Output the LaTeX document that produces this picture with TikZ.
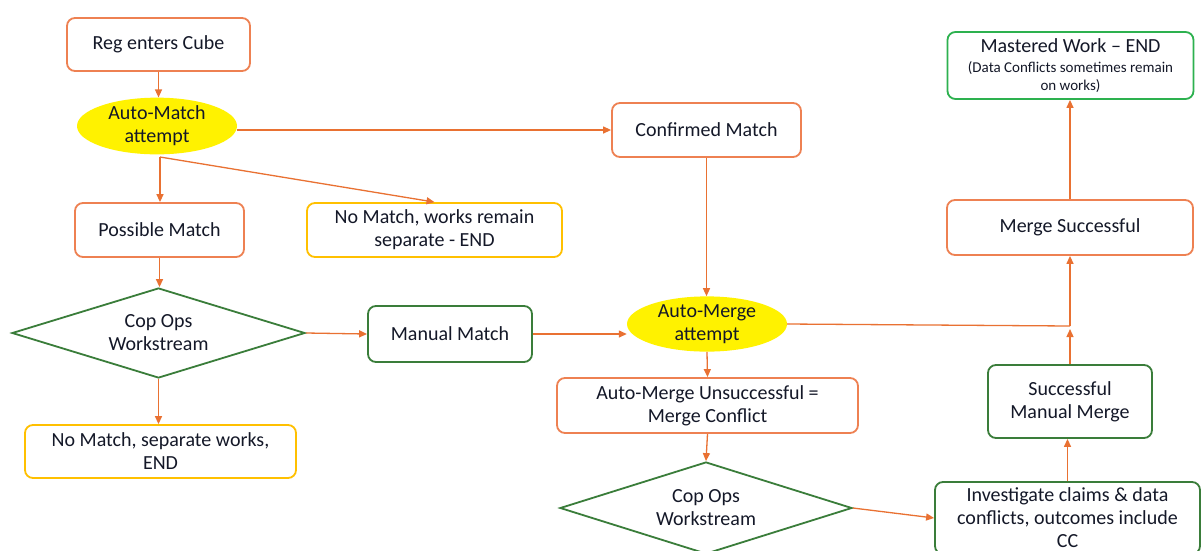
\documentclass[tikz,border=0pt]{standalone}
\usepackage{fontspec}
\setmainfont{Carlito}
\usetikzlibrary{shapes.geometric,arrows.meta}
\definecolor{org}{HTML}{E97132}
\definecolor{orgb}{HTML}{EE8152}
\definecolor{grn}{HTML}{3A7D3A}
\definecolor{brgrn}{HTML}{2DB14F}
\definecolor{ylw}{HTML}{FFC000}
\definecolor{txt}{HTML}{141828}
\begin{document}
\begin{tikzpicture}[x=1pt,y=-1pt,
  font=\fontsize{20}{23}\selectfont, text=txt,
  base/.style={line width=1.8pt, rounded corners=8pt, align=center, inner sep=0pt},
  obox/.style={base, draw=orgb},
  gbox/.style={base, draw=grn},
  ybox/.style={base, draw=ylw},
  mbox/.style={base, draw=brgrn},
  oval/.style={ellipse, fill=yellow, align=center, inner sep=0pt, minimum width=160pt, minimum height=53pt},
  dia/.style={diamond, aspect=3.2, draw=grn, line width=1.8pt, align=center, inner sep=0pt},
  arr/.style={draw=org, line width=1.3pt, -{Triangle[length=8pt,width=7pt]}},
  ln/.style={draw=org, line width=1.3pt}
]
\useasboundingbox (0,0) rectangle (1203,550);
\clip (0,0) rectangle (1203,550);
\fill[white] (0,0) rectangle (1203,550);

\node[obox, minimum width=183pt, minimum height=53pt] (reg) at (158.5,44.5) {Reg enters Cube};
\node[oval] (am) at (157,126) {Auto-Match\\attempt};
\node[obox, minimum width=189pt, minimum height=54pt] (conf) at (706.5,130) {Confirmed Match};
\node[obox, minimum width=169pt, minimum height=54pt] (pm) at (159.5,230) {Possible Match};
\node[ybox, minimum width=255pt, minimum height=54pt] (nm1) at (434.5,230) {No Match, works remain\\separate - END};
\node[dia, minimum width=293pt, minimum height=90pt] (d1) at (158.5,333) {Cop Ops\\Workstream};
\node[gbox, minimum width=164pt, minimum height=56pt] (mm) at (450,334) {Manual Match};
\node[ybox, minimum width=271pt, minimum height=53pt] (nm2) at (160.5,451.5) {No Match, separate works,\\END};
\node[oval, minimum height=52pt] (amg) at (707,324) {Auto-Merge\\attempt};
\node[obox, minimum width=301pt, minimum height=55pt] (amu) at (707.5,405.5) {Auto-Merge Unsuccessful =\\Merge Conflict};
\node[dia, minimum width=292pt, minimum height=92pt] (d2) at (706,508) {Cop Ops\\Workstream};
\node[gbox, minimum width=265pt, minimum height=72pt] (inv) at (1067.5,518) {Investigate claims \& data\\conflicts, outcomes include\\CC};
\node[gbox, minimum width=164pt, minimum height=73pt] (smm) at (1070,401.5) {Successful\\Manual Merge};
\node[obox, minimum width=246pt, minimum height=55pt] (ms) at (1070,227.5) {Merge Successful};
\node[mbox, minimum width=246pt, minimum height=67pt] (mw) at (1070.5,65.5) {Mastered Work -- END\\[-3pt]\fontsize{15}{18}\selectfont (Data Conflicts sometimes remain\\[-5pt]\fontsize{15}{18}\selectfont on works)};

\coordinate (sp) at (160,157);
\coordinate (jn) at (1070,326);
\coordinate (jn2) at (1070,329);

\draw[arr] (reg.south) -- (reg.south |- am.north);
\draw[arr] (am.east |- conf.west) -- (conf.west);
\draw[arr] (sp) -- (sp |- pm.north);
\draw[arr] (sp) -- (nm1.north);
\draw[arr] (pm.south) -- (pm.south |- d1.north);
\draw[arr] (d1.east) -- (mm.west);
\draw[arr] (d1.south) -- (d1.south |- nm2.north);
\draw[arr] (mm.east) -- (mm.east -| amg.west);
\draw[arr] (conf.south) -- (conf.south |- amg.north);
\draw[ln] (amg.east) -- (jn);
\draw[arr] (jn) -- (ms.south);
\draw[arr] (smm.north) -- (jn2);
\draw[arr] (amg.south) -- (amu.north);
\draw[arr] (amu.south) -- (d2.north);
\draw[arr] (d2.east) -- (inv.west);
\draw[arr] (inv.north) -- (inv.north |- smm.south);
\draw[arr] (ms.north) -- (ms.north |- mw.south);
\end{tikzpicture}
\end{document}
